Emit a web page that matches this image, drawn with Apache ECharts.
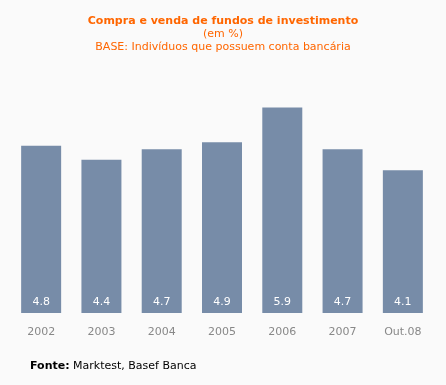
<!DOCTYPE html>
<html><head><meta charset="utf-8">
<script src="https://cdn.jsdelivr.net/npm/echarts@6/dist/echarts.min.js"></script>
<style>html,body{margin:0;padding:0;background:#fafafa}#c{width:446px;height:385px}</style>
</head><body><div id="c"></div>
<script>
const categories = ['2002','2003','2004','2005','2006','2007','Out.08'];
const values = [4.8, 4.4, 4.7, 4.9, 5.9, 4.7, 4.1];
const titleText = 'Compra e venda de fundos de investimento';
const subtitleLines = ['(em %)', 'BASE: Indivíduos que possuem conta bancária'];
const sourceBold = 'Fonte:';
const sourceText = ' Marktest, Basef Banca';

const chart = echarts.init(document.getElementById('c'), null, {renderer:'canvas'});
const F = 'DejaVu Sans, Verdana, sans-serif';
chart.setOption({
  backgroundColor: '#fafafa',
  animation: false,
  title: [{
    text: titleText,
    subtext: subtitleLines.join('\n'),
    left: 'center', top: 11, itemGap: 1,
    textStyle: {fontFamily: F, fontSize: 11, fontWeight: 'bold', color: '#ff6600'},
    subtextStyle: {fontFamily: F, fontSize: 11, color: '#ff6600', lineHeight: 13}
  }],
  graphic: [{
    type: 'text', left: 30, top: 361,
    style: {
      rich: {b: {fontFamily: F, fontSize: 11, fontWeight: 'bold', fill: '#000'}, n: {fontFamily: F, fontSize: 11, fill: '#000'}},
      text: '{b|' + sourceBold + '}{n|' + sourceText + '}'
    }
  }],
  grid: {left: 11, right: 13, top: 104, bottom: 72, containLabel: false},
  xAxis: {
    type: 'category', data: categories,
    axisLine: {show: false}, axisTick: {show: false},
    axisLabel: {fontFamily: F, fontSize: 11, color: '#888', margin: 14}
  },
  yAxis: {type: 'value', min: 0, max: 6, show: false, splitLine: {show: false}},
  series: [{
    type: 'bar', data: values, barWidth: 40,
    itemStyle: {color: '#778ca8'},
    label: {show: true, position: 'insideBottom', distance: 5, fontFamily: F, fontSize: 11, color: '#fff',
      formatter: p => p.value.toFixed(1)}
  }]
});
</script></body></html>
